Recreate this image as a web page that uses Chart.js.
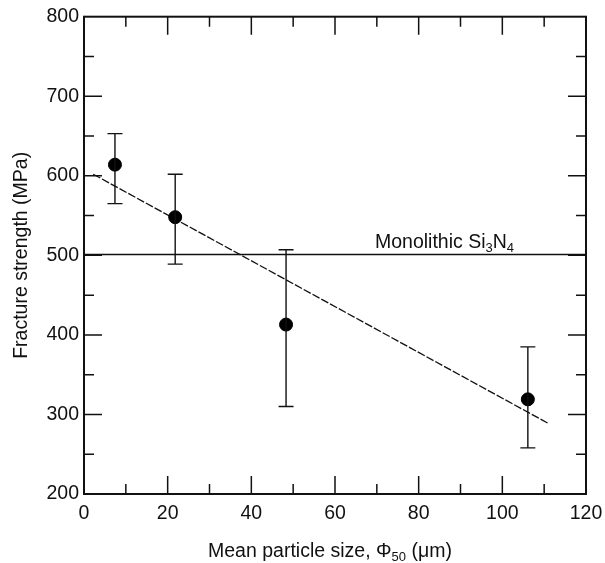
<!DOCTYPE html>
<html>
<head>
<meta charset="utf-8">
<script src="https://cdn.jsdelivr.net/npm/chart.js@4.4.1/dist/chart.umd.min.js"></script>
<style>
  html, body { margin: 0; padding: 0; background: #fff; }
  #wrap { width: 605px; height: 563px; }
</style>
</head>
<body>
<div id="wrap"><canvas id="chart" width="605" height="563"></canvas></div>
<script>
// measured values (particle size in um, strength in MPa)
const sizes = [7.4, 21.8, 48.3, 106.1];
const strength = [614, 548, 413, 319];
const errHigh = [653, 602, 507, 385];
const errLow = [565, 489, 310, 258];

// least-squares fit line, as drawn
const fitX = [2.2, 110.9];
const fitY = [602, 289];

// monolithic reference level
const monolithic = 501;

const xTicks = [0, 20, 40, 60, 80, 100, 120];
const yTicks = [200, 300, 400, 500, 600, 700, 800];

const FONT = '"Liberation Sans", Arial, Helvetica, sans-serif';

// draws error bars, ticks inside the frame and the text with subscripts
const drawExtras = {
    id: 'drawExtras',
    afterDatasetsDraw(chart) {
        const ctx = chart.ctx;
        const xs = chart.scales.x, ys = chart.scales.y;
        const a = chart.chartArea;
        ctx.save();
        ctx.strokeStyle = '#111';

        // error bars
        ctx.lineWidth = 1.4;
        sizes.forEach((s, i) => {
            const px = xs.getPixelForValue(s);
            const top = ys.getPixelForValue(errHigh[i]);
            const bot = ys.getPixelForValue(errLow[i]);
            ctx.beginPath();
            ctx.moveTo(px, top); ctx.lineTo(px, bot);
            ctx.moveTo(px - 7.5, top); ctx.lineTo(px + 7.5, top);
            ctx.moveTo(px - 7.5, bot); ctx.lineTo(px + 7.5, bot);
            ctx.stroke();
        });

        // inward ticks on all four sides
        ctx.lineWidth = 1.5;
        ctx.beginPath();
        for (let v = 10; v < 120; v += 10) {
            const px = xs.getPixelForValue(v);
            const len = v % 20 === 0 ? 18 : 10;
            ctx.moveTo(px, a.bottom); ctx.lineTo(px, a.bottom - len);
            ctx.moveTo(px, a.top); ctx.lineTo(px, a.top + len);
        }
        for (let v = 250; v < 800; v += 50) {
            const py = ys.getPixelForValue(v);
            const len = v % 100 === 0 ? 18 : 10;
            ctx.moveTo(a.left, py); ctx.lineTo(a.left + len, py);
            ctx.moveTo(a.right, py); ctx.lineTo(a.right - len, py);
        }
        ctx.stroke();

        // frame
        ctx.lineWidth = 2;
        ctx.strokeRect(a.left, a.top, a.right - a.left, a.bottom - a.top);

        // Monolithic Si3N4 label
        ctx.fillStyle = '#111';
        ctx.textBaseline = 'alphabetic';
        let tx = 375;
        const ty = ys.getPixelForValue(monolithic) - 7;
        const parts = [['Monolithic Si', 19.5, 0], ['3', 13, 4], ['N', 19.5, 0], ['4', 13, 4]];
        parts.forEach(p => {
            ctx.font = p[1] + 'px ' + FONT;
            ctx.fillText(p[0], tx, ty + p[2]);
            tx += ctx.measureText(p[0]).width;
        });

        // x axis title
        const xparts = [['Mean particle size, \u03A6', 19.5, 0], ['50', 13, 4], [' (\u03BCm)', 19.5, 0]];
        tx = 208;
        xparts.forEach(p => {
            ctx.font = p[1] + 'px ' + FONT;
            ctx.fillText(p[0], tx, 557 + p[2]);
            tx += ctx.measureText(p[0]).width;
        });
        ctx.restore();
    }
};

const ctx = document.getElementById('chart').getContext('2d');
new Chart(ctx, {
    type: 'scatter',
    data: {
        datasets: [
            {
                label: 'Measured',
                data: sizes.map((s, i) => ({ x: s, y: strength[i] })),
                pointRadius: 6.5,
                pointHoverRadius: 6.5,
                backgroundColor: '#000',
                borderColor: '#000',
                order: 1
            },
            {
                label: 'Fit',
                data: fitX.map((x, i) => ({ x: x, y: fitY[i] })),
                showLine: true,
                pointRadius: 0,
                borderColor: '#111',
                borderWidth: 1.3,
                borderDash: [8, 2],
                order: 2
            },
            {
                label: 'Monolithic',
                data: [{ x: 0, y: monolithic }, { x: 120, y: monolithic }],
                showLine: true,
                pointRadius: 0,
                borderColor: '#111',
                borderWidth: 1.5,
                order: 3
            }
        ]
    },
    options: {
        responsive: false,
        animation: false,
        events: [],
        layout: { padding: { top: 14, right: 19, left: 0, bottom: 0 } },
        plugins: {
            legend: { display: false },
            tooltip: { enabled: false }
        },
        scales: {
            x: {
                type: 'linear',
                min: 0, max: 120,
                afterBuildTicks: s => { s.ticks = xTicks.map(v => ({ value: v })); },
                afterFit: s => { s.height = 69; s.paddingRight = 0; },
                grid: { display: false, drawTicks: false },
                border: { display: false },
                ticks: {
                    color: '#111',
                    padding: 8,
                    maxRotation: 0,
                    font: { family: FONT, size: 19.5 }
                }
            },
            y: {
                type: 'linear',
                min: 200, max: 800,
                afterBuildTicks: s => { s.ticks = yTicks.map(v => ({ value: v })); },
                afterFit: s => { s.width = 84; },
                grid: { display: false, drawTicks: false },
                border: { display: false },
                title: {
                    display: true,
                    text: 'Fracture strength (MPa)',
                    color: '#111',
                    padding: { top: 10, bottom: 0 },
                    font: { family: FONT, size: 19.5 }
                },
                ticks: {
                    color: '#111',
                    padding: 5,
                    font: { family: FONT, size: 19.5 }
                }
            }
        }
    },
    plugins: [drawExtras]
});
</script>
</body>
</html>
